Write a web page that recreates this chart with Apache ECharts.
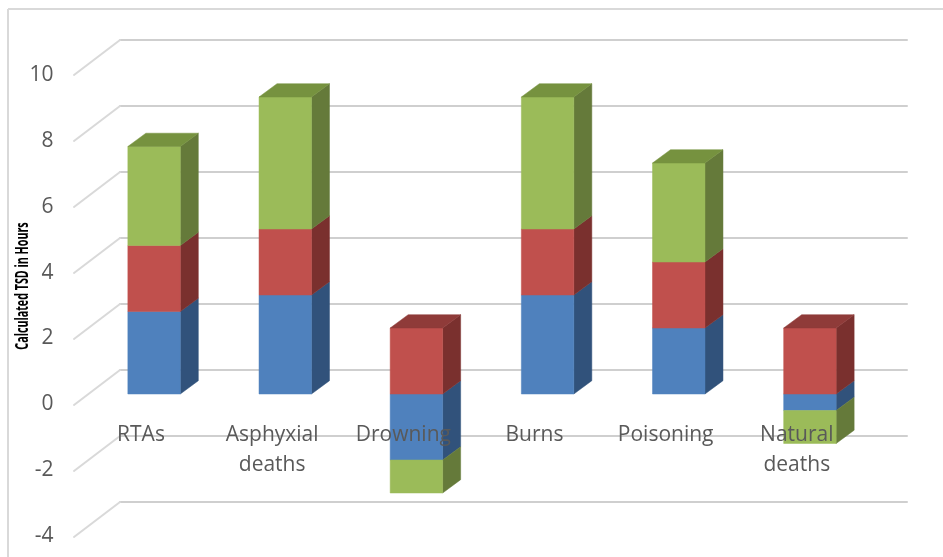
<!DOCTYPE html>
<html style="height: 100%">
  <head>
    <meta charset="utf-8">
  </head>
  <body style="height: 100%; margin: 0; background: #fff">
    <div id="container" style="width: 943px; height: 557px"></div>
    <script src="https://cdn.jsdelivr.net/npm/echarts@6/dist/echarts.min.js"></script>
    <script type="text/javascript">
      const categories = ['RTAs', 'Asphyxial deaths', 'Drowning', 'Burns', 'Poisoning', 'Natural deaths'];
      const blueValues = [2.5, 3, -2, 3, 2, -0.5];
      const redValues = [2, 2, 2, 2, 2, 2];
      const greenValues = [3, 4, -1, 4, 3, -1];
      const yTicks = [-4, -2, 0, 2, 4, 6, 8, 10];

      // front, side, top colours of each series
      const blueFaces = ['#4f81bd', '#31527b', '#3c6492'];
      const redFaces = ['#c0504d', '#7a302e', '#8f3b39'];
      const greenFaces = ['#9bbb59', '#657a3a', '#76923f'];

      // fake 3D offsets, in pixels
      const barDepth = [18, -13.3];
      const wallDepth = [-46, 35];

      // stack positive values up and negative values down, like Excel does
      const seriesValues = [blueValues, redValues, greenValues];
      const stacks = seriesValues.map(function () { return []; });
      categories.forEach(function (c, i) {
        let up = 0, down = 0;
        seriesValues.forEach(function (vals, s) {
          const v = vals[i];
          if (v >= 0) {
            stacks[s].push([i, up, up + v]);
            up += v;
          } else {
            stacks[s].push([i, down, down + v]);
            down += v;
          }
        });
        // mark the last positive segment: only that one shows its top face
        seriesValues.forEach(function (vals, s) {
          stacks[s][i].push(stacks[s][i][2] === up ? 1 : 0);
        });
      });

      function poly(points, color) {
        return { type: 'polygon', shape: { points: points }, style: { fill: color, stroke: color, lineWidth: 0.5 } };
      }

      function barSeries(s, faces) {
        return {
          type: 'custom',
          xAxisIndex: 1,
          yAxisIndex: 1,
          z: 3 + s,
          silent: true,
          data: stacks[s],
          encode: { x: 0, y: [1, 2] },
          renderItem: function (params, api) {
            const size = api.size([1, 0])[0];
            const w = size * 0.4;
            const a = api.coord([api.value(0), api.value(1)]);
            const b = api.coord([api.value(0), api.value(2)]);
            const x0 = a[0] - w / 2, x1 = a[0] + w / 2;
            const yLow = Math.max(a[1], b[1]), yHigh = Math.min(a[1], b[1]);
            const dx = barDepth[0], dy = barDepth[1];
            const children = [
              poly([[x1, yHigh], [x1 + dx, yHigh + dy], [x1 + dx, yLow + dy], [x1, yLow]], faces[1]),
              poly([[x0, yHigh], [x1, yHigh], [x1, yLow], [x0, yLow]], faces[0])
            ];
            if (api.value(3) === 1) {
              children.push(poly([[x0, yHigh], [x0 + dx, yHigh + dy], [x1 + dx, yHigh + dy], [x1, yHigh]], faces[2]));
            }
            return { type: 'group', children: children };
          }
        };
      }

      const myChart = echarts.init(document.getElementById('container'));

      myChart.setOption({
        animation: false,
        backgroundColor: '#fff',
        grid: [
          // back wall
          { left: 120, top: 40, width: 787, height: 462, outerBoundsMode: 'none' },
          // front plane of the bars
          { left: 88.5, top: 64, width: 787, height: 462, outerBoundsMode: 'none' },
          // plane of the value labels
          { left: 75.4, top: 75, width: 787, height: 461, outerBoundsMode: 'none' },
          // category labels, its bottom edge is the value 0 of the label plane
          { left: 75.4, top: 75, width: 787, height: 329, outerBoundsMode: 'none' }
        ],
        xAxis: [
          { type: 'category', gridIndex: 0, data: categories, show: false },
          { type: 'category', gridIndex: 1, data: categories, show: false },
          { type: 'category', gridIndex: 2, data: categories, show: false },
          {
            type: 'category',
            gridIndex: 3,
            data: categories,
            z: 10,
            axisLine: { show: false },
            axisTick: { show: false },
            axisLabel: {
              interval: 0,
              margin: 16,
              lineHeight: 30,
              fontFamily: 'Open Sans',
              fontSize: 21,
              color: '#595959',
              formatter: function (value) {
                return value.replace(' ', '\n');
              }
            }
          }
        ],
        yAxis: [
          {
            type: 'value',
            gridIndex: 0,
            min: -4,
            max: 10,
            interval: 2,
            axisLine: { show: false },
            axisTick: { show: false },
            axisLabel: { show: false },
            splitLine: { lineStyle: { color: '#cfcfcf', width: 2, cap: 'round' } }
          },
          { type: 'value', gridIndex: 1, min: -4, max: 10, interval: 2, show: false },
          {
            type: 'value',
            gridIndex: 2,
            min: -4,
            max: 10,
            interval: 2,
            axisLine: { show: false },
            axisTick: { show: false },
            splitLine: { show: false },
            axisLabel: {
              margin: 22,
              fontFamily: 'Open Sans',
              fontSize: 21,
              color: '#595959'
            }
          },
          { type: 'value', gridIndex: 3, min: 0, max: 10, show: false }
        ],
        series: [
          {
            // diagonal floor lines joining the wall to the axis labels
            type: 'custom',
            xAxisIndex: 0,
            yAxisIndex: 0,
            z: 1,
            silent: true,
            data: yTicks.map(function (t) { return [0, t]; }),
            encode: { y: 1 },
            renderItem: function (params, api) {
              const y = api.coord([0, api.value(1)])[1];
              const x = params.coordSys.x;
              return {
                type: 'line',
                shape: { x1: x, y1: y, x2: x + wallDepth[0], y2: y + wallDepth[1] },
                style: { stroke: '#d9d9d9', lineWidth: 2, lineCap: 'round' }
              };
            }
          },
          barSeries(0, blueFaces),
          barSeries(1, redFaces),
          barSeries(2, greenFaces)
        ],
        graphic: [
          { type: 'line', shape: { x1: 8, y1: 9, x2: 943, y2: 9 }, style: { stroke: '#d9d9d9', lineWidth: 2 } },
          { type: 'line', shape: { x1: 8, y1: 9, x2: 8, y2: 557 }, style: { stroke: '#d9d9d9', lineWidth: 2 } },
          {
            // condensed bold axis title, no narrow font is installed
            type: 'text',
            x: 23,
            y: 286,
            rotation: Math.PI / 2,
            scaleX: 0.63,
            style: {
              text: 'Calculated TSD in Hours',
              font: 'bold 17px "Open Sans"',
              fill: '#000',
              align: 'center',
              verticalAlign: 'middle'
            }
          }
        ]
      });
    </script>
  </body>
</html>
